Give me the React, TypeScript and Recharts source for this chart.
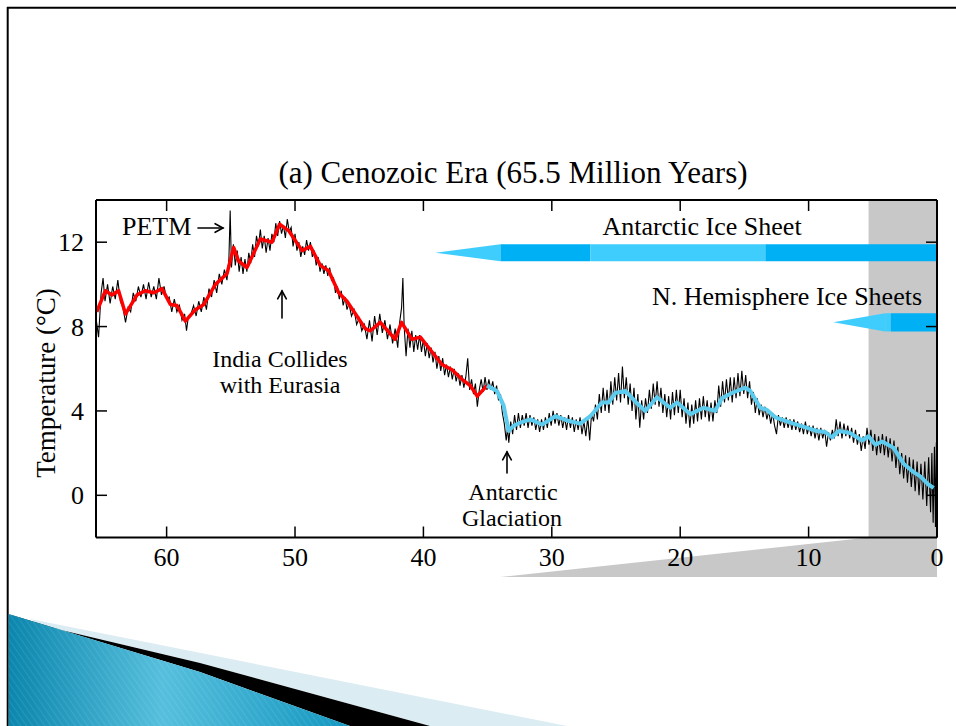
import React from "react";
import { LineChart, Line, XAxis, YAxis, ReferenceArea } from "recharts";

const serif = "'Liberation Serif', 'DejaVu Serif', 'Times New Roman', serif";

// axis ticks
const ageTicks = [0, 10, 20, 30, 40, 50, 60];
const tempTicks = [0, 4, 8, 12];

// smoothed curve, before the Antarctic glaciation (red)
const warmAge = [65.44, 64.77, 64.25, 63.74, 63.2, 62.3, 61.66, 61.0, 60.36, 59.71, 59.19, 58.54, 57.76, 57.1, 56.2, 55.3, 54.78, 54.39, 53.74, 52.7, 51.79, 51.2, 50.5, 49.45, 48.8, 48.03, 47.38, 46.6, 45.95, 44.52, 44.13, 43.36, 42.2, 41.7, 40.89, 40.24, 39.46, 38.55, 37.77, 36.99, 36.35, 35.8, 35.05];
const warmTemp = [8.7, 9.7, 9.5, 9.7, 8.6, 9.5, 9.7, 9.6, 9.8, 9.05, 9.0, 8.26, 8.8, 9.05, 10.0, 10.5, 11.75, 11.1, 10.8, 12.15, 12.0, 12.85, 12.55, 11.6, 11.8, 10.9, 10.65, 9.6, 9.2, 7.9, 7.8, 8.2, 7.4, 8.2, 7.4, 7.5, 6.9, 6.2, 5.95, 5.5, 5.2, 4.7, 5.2];

// smoothed curve, after the Antarctic glaciation (light blue)
const coldAge = [35.05, 34.27, 33.75, 33.36, 32.97, 32.45, 31.67, 30.76, 29.73, 28.82, 27.78, 27.0, 26.09, 25.57, 25.05, 24.27, 23.5, 22.72, 21.81, 20.77, 20.25, 19.21, 18.18, 17.27, 16.75, 15.97, 14.93, 14.54, 13.76, 13.24, 12.59, 11.17, 10.12, 9.35, 8.7, 8.18, 7.66, 6.75, 5.84, 5.33, 4.8, 4.28, 3.38, 2.6, 1.82, 1.3, 0.65, 0.26];
const coldTemp = [5.2, 4.95, 4.25, 3.05, 3.3, 3.45, 3.6, 3.35, 3.75, 3.55, 3.4, 3.75, 4.4, 4.4, 4.85, 4.95, 4.45, 4.0, 4.65, 4.15, 4.4, 3.85, 4.15, 4.0, 4.6, 4.85, 5.1, 4.95, 4.15, 4.05, 3.7, 3.4, 3.2, 3.05, 3.0, 2.75, 3.05, 2.95, 2.6, 2.8, 2.4, 2.55, 2.25, 1.5, 1.1, 0.9, 0.5, 0.35];

// raw high-resolution record (black)
const rawAge = [
  65.5, 65.3, 65.1, 64.95, 64.8, 64.6, 64.4, 64.2, 64.0, 63.8, 63.6, 63.4, 63.2, 63.0, 62.8, 62.6, 62.4, 62.2, 62.0, 61.8,
  61.6, 61.4, 61.2, 61.0, 60.8, 60.6, 60.4, 60.2, 60.0, 59.8, 59.6, 59.4, 59.2, 59.0, 58.8, 58.6, 58.45, 58.3, 58.1, 57.9,
  57.7, 57.5, 57.3, 57.1, 56.9, 56.7, 56.5, 56.3, 56.1, 55.9, 55.7, 55.5, 55.3, 55.15, 55.05, 54.95, 54.8, 54.65, 54.5, 54.35,
  54.2, 54.05, 53.9, 53.75, 53.6, 53.45, 53.3, 53.15, 53.0, 52.85, 52.7, 52.55, 52.4, 52.25, 52.1, 51.95, 51.8, 51.65, 51.5, 51.35,
  51.2, 51.05, 50.9, 50.75, 50.6, 50.45, 50.3, 50.15, 50.0, 49.85, 49.7, 49.55, 49.4, 49.25, 49.1, 48.95, 48.8, 48.65, 48.5, 48.35,
  48.2, 48.05, 47.9, 47.75, 47.6, 47.45, 47.3, 47.15, 47.0, 46.85, 46.7, 46.55, 46.4, 46.25, 46.1, 45.95, 45.8, 45.6, 45.4, 45.2,
  45.0, 44.8, 44.6, 44.4, 44.2, 44.0, 43.8, 43.6, 43.4, 43.2, 43.0, 42.8, 42.6, 42.4, 42.2, 42.0, 41.85, 41.7, 41.6, 41.5,
  41.35, 41.2, 41.05, 40.9, 40.75, 40.6, 40.45, 40.3, 40.15, 40.0, 39.85, 39.7, 39.55, 39.4, 39.25, 39.1, 38.95, 38.8, 38.65, 38.5,
  38.35, 38.2, 38.05, 37.9, 37.75, 37.6, 37.45, 37.3, 37.15, 37.0, 36.85, 36.7, 36.55, 36.4, 36.25, 36.1, 35.95, 35.8, 35.65, 35.5,
  35.35, 35.2, 35.05, 34.9, 34.75, 34.6, 34.45, 34.3, 34.15, 34.0, 33.85, 33.7, 33.55, 33.45, 33.35, 33.2, 33.05, 32.9, 32.75, 32.6,
  32.45, 32.3, 32.15, 32.0, 31.85, 31.7, 31.55, 31.4, 31.25, 31.1, 30.95, 30.8, 30.65, 30.5, 30.35, 30.2, 30.05, 29.9, 29.75, 29.6,
  29.45, 29.3, 29.15, 29.0, 28.85, 28.7, 28.55, 28.4, 28.25, 28.1, 27.95, 27.8, 27.65, 27.5, 27.35, 27.2, 27.05, 26.9, 26.75, 26.6,
  26.45, 26.3, 26.15, 26.0, 25.85, 25.7, 25.55, 25.4, 25.25, 25.1, 24.95, 24.8, 24.65, 24.5, 24.35, 24.2, 24.05, 23.9, 23.75, 23.6,
  23.45, 23.3, 23.15, 23.0, 22.85, 22.7, 22.55, 22.4, 22.25, 22.1, 21.95, 21.8, 21.65, 21.5, 21.35, 21.2, 21.05, 20.9, 20.75, 20.6,
  20.45, 20.3, 20.15, 20.0, 19.85, 19.7, 19.55, 19.4, 19.25, 19.1, 18.95, 18.8, 18.65, 18.5, 18.35, 18.2, 18.05, 17.9, 17.75, 17.6,
  17.45, 17.3, 17.15, 17.0, 16.85, 16.7, 16.55, 16.4, 16.25, 16.1, 15.95, 15.8, 15.65, 15.5, 15.35, 15.2, 15.05, 14.9, 14.75, 14.6,
  14.45, 14.3, 14.15, 14.0, 13.85, 13.7, 13.55, 13.4, 13.25, 13.1, 12.95, 12.8, 12.65, 12.5, 12.35, 12.2, 12.05, 11.9, 11.75, 11.6,
  11.45, 11.3, 11.15, 11.0, 10.85, 10.7, 10.55, 10.4, 10.25, 10.1, 9.95, 9.8, 9.65, 9.5, 9.35, 9.2, 9.05, 8.9, 8.75, 8.6,
  8.45, 8.3, 8.15, 8.0, 7.85, 7.7, 7.55, 7.4, 7.25, 7.1, 6.95, 6.8, 6.65, 6.5, 6.35, 6.2, 6.05, 5.9, 5.75, 5.6,
  5.45, 5.3, 5.15, 5.0, 4.85, 4.7, 4.55, 4.4, 4.25, 4.1, 3.95, 3.8, 3.65, 3.5, 3.35, 3.2, 3.05, 2.9, 2.75, 2.6,
  2.45, 2.3, 2.15, 2.0, 1.85, 1.7, 1.55, 1.4, 1.25, 1.1, 0.95, 0.8, 0.65, 0.5, 0.4, 0.3, 0.2, 0.12, 0.05, 0.0,
];
const rawTemp = [
  8.4, 7.5, 9.6, 10.3, 9.2, 10.0, 9.1, 9.9, 9.3, 10.2, 9.2, 8.9, 8.2, 8.9, 8.7, 9.6, 9.2, 9.9, 9.4, 10.0,
  9.3, 10.1, 9.4, 9.9, 9.3, 10.3, 9.5, 9.9, 9.3, 9.4, 8.7, 9.3, 8.7, 9.0, 8.3, 8.6, 7.8, 8.5, 8.6, 9.0,
  8.5, 9.2, 8.7, 9.4, 8.8, 9.8, 9.4, 10.2, 9.6, 10.5, 10.0, 10.7, 10.2, 11.2, 13.5, 10.8, 11.9, 10.9, 11.6, 10.6,
  11.3, 10.5, 11.2, 10.6, 11.5, 11.0, 11.9, 11.3, 12.3, 11.8, 12.6, 11.7, 12.3, 11.5, 12.2, 11.6, 12.4, 12.0, 12.9, 12.3,
  13.0, 12.4, 12.8, 12.2, 13.1, 12.5, 12.7, 11.8, 12.4, 11.6, 12.0, 11.3, 11.8, 11.4, 12.1, 11.6, 12.0, 11.3, 11.6, 10.9,
  11.3, 10.6, 11.0, 10.5, 10.9, 10.4, 10.8, 10.2, 10.3, 9.6, 9.9, 9.3, 9.7, 9.0, 9.4, 8.8, 9.1, 8.5, 8.8, 8.1,
  8.4, 7.8, 8.1, 7.4, 8.3, 7.3, 8.5, 7.6, 8.6, 7.7, 8.3, 7.4, 8.1, 7.2, 7.9, 7.0, 8.2, 8.9, 10.3, 8.0,
  6.6, 7.9, 7.0, 7.8, 6.8, 7.6, 6.9, 7.6, 6.8, 7.4, 6.6, 7.2, 6.5, 7.0, 6.3, 6.8, 6.0, 6.6, 5.9, 6.5,
  5.7, 6.2, 5.6, 6.1, 5.5, 6.0, 5.4, 5.8, 5.2, 5.7, 5.1, 5.6, 6.5, 5.0, 5.5, 4.8, 5.3, 4.2, 5.0, 5.5,
  4.9, 5.6, 5.0, 5.5, 5.0, 5.4, 4.8, 5.2, 4.5, 4.8, 3.9, 3.4, 2.6, 3.2, 2.5, 3.5, 2.9, 3.8, 3.1, 3.9,
  3.2, 3.8, 3.3, 3.9, 3.2, 3.8, 3.3, 3.7, 3.1, 3.6, 3.0, 3.6, 3.1, 3.7, 3.2, 3.9, 3.3, 4.0, 3.4, 3.9,
  3.3, 3.8, 3.2, 3.7, 3.1, 3.8, 3.2, 3.7, 3.0, 3.6, 3.1, 3.7, 2.9, 3.5, 2.8, 3.7, 2.6, 3.9, 3.5, 4.3,
  3.6, 4.8, 3.9, 5.1, 4.0, 5.0, 3.9, 5.4, 4.3, 5.6, 4.5, 5.8, 4.4, 6.1, 4.6, 5.6, 4.3, 5.3, 4.0, 5.1,
  3.6, 4.8, 3.2, 4.5, 3.6, 4.6, 3.9, 5.0, 4.1, 5.3, 4.3, 5.4, 4.2, 5.1, 3.9, 4.8, 3.7, 4.7, 3.6, 4.9,
  3.8, 5.0, 3.9, 5.0, 3.7, 4.6, 3.4, 4.4, 3.2, 4.3, 3.4, 4.5, 3.5, 4.6, 3.6, 4.7, 3.7, 4.5, 3.5, 4.4,
  3.5, 4.5, 3.9, 5.2, 4.2, 5.4, 4.4, 5.5, 4.5, 5.6, 4.4, 5.6, 4.6, 5.8, 4.7, 5.9, 4.8, 5.7, 4.6, 5.4,
  4.3, 4.9, 3.9, 4.6, 3.8, 4.3, 3.7, 4.2, 3.6, 4.0, 3.4, 3.9, 3.3, 2.9, 3.8, 3.3, 3.7, 3.2, 3.7, 3.2,
  3.6, 3.1, 3.6, 3.1, 3.5, 3.0, 3.4, 2.9, 3.5, 2.9, 3.3, 2.8, 3.3, 2.7, 3.2, 2.6, 3.2, 2.7, 3.1, 2.3,
  3.0, 2.6, 3.1, 2.7, 3.6, 2.8, 3.5, 2.7, 3.4, 2.8, 3.3, 2.7, 3.2, 2.5, 3.1, 2.4, 2.9, 2.1, 2.8, 2.2,
  3.2, 2.4, 3.1, 2.1, 2.9, 1.9, 2.8, 2.0, 2.9, 1.9, 2.8, 1.8, 2.7, 1.6, 2.6, 1.3, 2.3, 1.0, 2.0, 0.8,
  1.9, 0.6, 1.8, 0.4, 1.7, 0.2, 1.6, 0.0, 1.5, -0.2, 1.6, -0.5, 1.8, -0.8, 2.0, -1.3, 2.3, -1.5, 2.5, 0.3,
];

// ice sheet bars: [from age, to age, lighter shade?]
const antarcticTip = [39.07, 34.0];
const antarcticBands = [
  [34.0, 27.0, false],
  [27.0, 13.37, true],
  [13.37, 0, false],
] as const;
const antarcticTemp = [11.1, 11.9];
const northTip = [8.07, 4.04];
const northBands = [
  [4.04, 3.6, true],
  [3.6, 0, false],
] as const;
const northTemp = [7.77, 8.63];

// shaded Pliocene-Pleistocene window and its zoom wedge below the axis
const shadeFrom = 5.33;
const wedgeFrom = 34.0;
const wedgeBottom = -3.87;

const DARK_ICE = "#00b0f4";
const LIGHT_ICE = "#3fcdfd";
const GRAY = "#c8c8c8";

const rawData = rawAge.map((age, i) => ({ age, temp: rawTemp[i] }));
const warmData = warmAge.map((age, i) => ({ age, temp: warmTemp[i] }));
const coldData = coldAge.map((age, i) => ({ age, temp: coldTemp[i] }));

function BottomTick(props: any) {
  const { x, y, payload } = props;
  return (
    <g>
      <line x1={x} y1={y} x2={x} y2={y - 11} stroke="#000" strokeWidth={1.5} />
      <text x={x} y={y + 28} textAnchor="middle" fontSize={26} fontFamily={serif} fill="#000">
        {payload.value}
      </text>
    </g>
  );
}

function TopTick(props: any) {
  const { x, y } = props;
  return <line x1={x} y1={y} x2={x} y2={y + 11} stroke="#000" strokeWidth={1.5} />;
}

function LeftTick(props: any) {
  const { x, y, payload } = props;
  return (
    <g>
      <line x1={x} y1={y} x2={x + 11} y2={y} stroke="#000" strokeWidth={1.5} />
      <text x={x - 12} y={y + 9} textAnchor="end" fontSize={26} fontFamily={serif} fill="#000">
        {payload.value}
      </text>
    </g>
  );
}

function RightTick(props: any) {
  const { x, y } = props;
  return <line x1={x} y1={y} x2={x - 11} y2={y} stroke="#000" strokeWidth={1.5} />;
}

function Taper(props: any) {
  const { x, y, width, height, fill } = props;
  const pts = `${x},${y + height / 2} ${x + width},${y} ${x + width},${y + height}`;
  return <polygon points={pts} fill={fill} />;
}

function Wedge(props: any) {
  const { x, y, width, height } = props;
  const k = (wedgeFrom - shadeFrom) / wedgeFrom;
  const pts = `${x},${y + height} ${x + width * k},${y} ${x + width},${y} ${x + width},${y + height}`;
  return <polygon points={pts} fill={GRAY} />;
}

function Arrow({ x1, y1, x2, y2 }: { x1: number; y1: number; x2: number; y2: number }) {
  const a = Math.atan2(y2 - y1, x2 - x1);
  const h = 9;
  const p1 = [x2 - h * Math.cos(a - 0.5), y2 - h * Math.sin(a - 0.5)];
  const p2 = [x2 - h * Math.cos(a + 0.5), y2 - h * Math.sin(a + 0.5)];
  return (
    <g stroke="#000" strokeWidth={1.6} fill="none" strokeLinecap="round">
      <line x1={x1} y1={y1} x2={x2} y2={y2} />
      <polyline points={`${p1[0]},${p1[1]} ${x2},${y2} ${p2[0]},${p2[1]}`} />
    </g>
  );
}

export default function App() {
  const axisLine = { stroke: "#000", strokeWidth: 2 };
  const ax = { xAxisId: "b", yAxisId: "l" };
  return (
    <div style={{ position: "absolute", left: 0, top: 0, width: 956, height: 726, background: "#fff", overflow: "hidden" }}>
      <svg width={956} height={726} style={{ position: "absolute", left: 0, top: 0 }}>
        <defs>
          <linearGradient id="slideBlue" x1="0" y1="0" x2="1" y2="0">
            <stop offset="0%" stopColor="#0b86ad" />
            <stop offset="45%" stopColor="#56bfdd" />
            <stop offset="100%" stopColor="#1497c0" />
          </linearGradient>
          <pattern id="stripes" width="5" height="5" patternUnits="userSpaceOnUse" patternTransform="rotate(-35)">
            <line x1="0" y1="0" x2="0" y2="5" stroke="#ffffff" strokeOpacity={0.18} strokeWidth={1} />
          </pattern>
        </defs>
        <line x1={7} y1={7.7} x2={956} y2={7.7} stroke="#000" strokeWidth={2} />
        <line x1={7.7} y1={7} x2={7.7} y2={726} stroke="#000" strokeWidth={2} />
        <path d="M30,619 L567,726 L430,726 L200,663 L40,625 Z" fill="#dbecf3" />
        <path d="M40,625 L200,663 L430,726 L350,726 L200,672 L8,614 Z" fill="#000" />
        <path d="M8.7,614 L200,672 L350,726 L8.7,726 Z" fill="url(#slideBlue)" />
        <path d="M8.7,614 L200,672 L350,726 L8.7,726 Z" fill="url(#stripes)" />
      </svg>

      <div style={{ position: "absolute", left: 0, top: 0 }}>
        <LineChart width={956} height={726} margin={{ top: 199, right: 18, left: 36, bottom: 148.5 }}>
          <XAxis
            xAxisId="b"
            type="number"
            dataKey="age"
            domain={[0, 65.5]}
            reversed
            allowDataOverflow
            ticks={ageTicks}
            interval={0}
            height={40}
            axisLine={axisLine}
            tickLine={false}
            tickSize={0}
            tickMargin={0}
            tick={BottomTick}
          />
          <XAxis
            xAxisId="t"
            orientation="top"
            type="number"
            dataKey="age"
            domain={[0, 65.5]}
            reversed
            allowDataOverflow
            ticks={ageTicks}
            interval={0}
            height={1}
            axisLine={axisLine}
            tickLine={false}
            tickSize={0}
            tickMargin={0}
            tick={TopTick}
          />
          <YAxis
            yAxisId="l"
            type="number"
            domain={[-2, 14]}
            allowDataOverflow
            ticks={tempTicks}
            interval={0}
            width={60}
            axisLine={axisLine}
            tickLine={false}
            tickSize={0}
            tickMargin={0}
            tick={LeftTick}
          />
          <YAxis
            yAxisId="r"
            orientation="right"
            type="number"
            domain={[-2, 14]}
            allowDataOverflow
            ticks={tempTicks}
            interval={0}
            width={1}
            axisLine={axisLine}
            tickLine={false}
            tickSize={0}
            tickMargin={0}
            tick={RightTick}
          />

          <ReferenceArea {...ax} x1={shadeFrom} x2={0} y1={-2} y2={14} fill={GRAY} fillOpacity={1} stroke="none" />
          <ReferenceArea
            {...ax}
            x1={wedgeFrom}
            x2={0}
            y1={wedgeBottom}
            y2={-2}
            ifOverflow="visible"
            shape={(p: any) => <Wedge {...p} />}
          />

          <ReferenceArea
            {...ax}
            x1={antarcticTip[0]}
            x2={antarcticTip[1]}
            y1={antarcticTemp[0]}
            y2={antarcticTemp[1]}
            shape={(p: any) => <Taper {...p} fill={LIGHT_ICE} />}
          />
          {antarcticBands.map(([a, b, light], i) => (
            <ReferenceArea
              key={"a" + i}
              {...ax}
              x1={a}
              x2={b}
              y1={antarcticTemp[0]}
              y2={antarcticTemp[1]}
              fill={light ? LIGHT_ICE : DARK_ICE}
              fillOpacity={1}
              stroke="none"
            />
          ))}
          <ReferenceArea
            {...ax}
            x1={northTip[0]}
            x2={northTip[1]}
            y1={northTemp[0]}
            y2={northTemp[1]}
            shape={(p: any) => <Taper {...p} fill={LIGHT_ICE} />}
          />
          {northBands.map(([a, b, light], i) => (
            <ReferenceArea
              key={"n" + i}
              {...ax}
              x1={a}
              x2={b}
              y1={northTemp[0]}
              y2={northTemp[1]}
              fill={light ? LIGHT_ICE : DARK_ICE}
              fillOpacity={1}
              stroke="none"
            />
          ))}

          <Line {...ax} data={rawData} dataKey="temp" type="linear" stroke="#000" strokeWidth={1.1} dot={false} isAnimationActive={false} />
          <Line {...ax} data={warmData} dataKey="temp" type="linear" stroke="#ff0000" strokeWidth={3.5} strokeLinejoin="round" dot={false} isAnimationActive={false} />
          <Line {...ax} data={coldData} dataKey="temp" type="linear" stroke="#5ccbee" strokeWidth={4} strokeLinejoin="round" dot={false} isAnimationActive={false} />
        </LineChart>
      </div>

      <svg width={956} height={726} style={{ position: "absolute", left: 0, top: 0, pointerEvents: "none" }} fontFamily={serif} fill="#000">
        <text x={513} y={183} textAnchor="middle" fontSize={31}>(a) Cenozoic Era (65.5 Million Years)</text>
        <text x={55} y={383} textAnchor="middle" fontSize={27} transform="rotate(-90 55 383)">Temperature (°C)</text>
        <text x={122} y={235} fontSize={26}>PETM</text>
        <Arrow x1={198} y1={228} x2={223} y2={228} />
        <Arrow x1={282} y1={318} x2={282} y2={291} />
        <text x={280} y={367} textAnchor="middle" fontSize={24}>India Collides</text>
        <text x={280} y={393} textAnchor="middle" fontSize={24}>with Eurasia</text>
        <Arrow x1={507} y1={473} x2={507} y2={452} />
        <text x={513} y={500} textAnchor="middle" fontSize={24}>Antarctic</text>
        <text x={512} y={526} textAnchor="middle" fontSize={24}>Glaciation</text>
        <text x={702} y={235} textAnchor="middle" fontSize={26}>Antarctic Ice Sheet</text>
        <text x={652} y={305} fontSize={26}>N. Hemisphere Ice Sheets</text>
      </svg>
    </div>
  );
}
